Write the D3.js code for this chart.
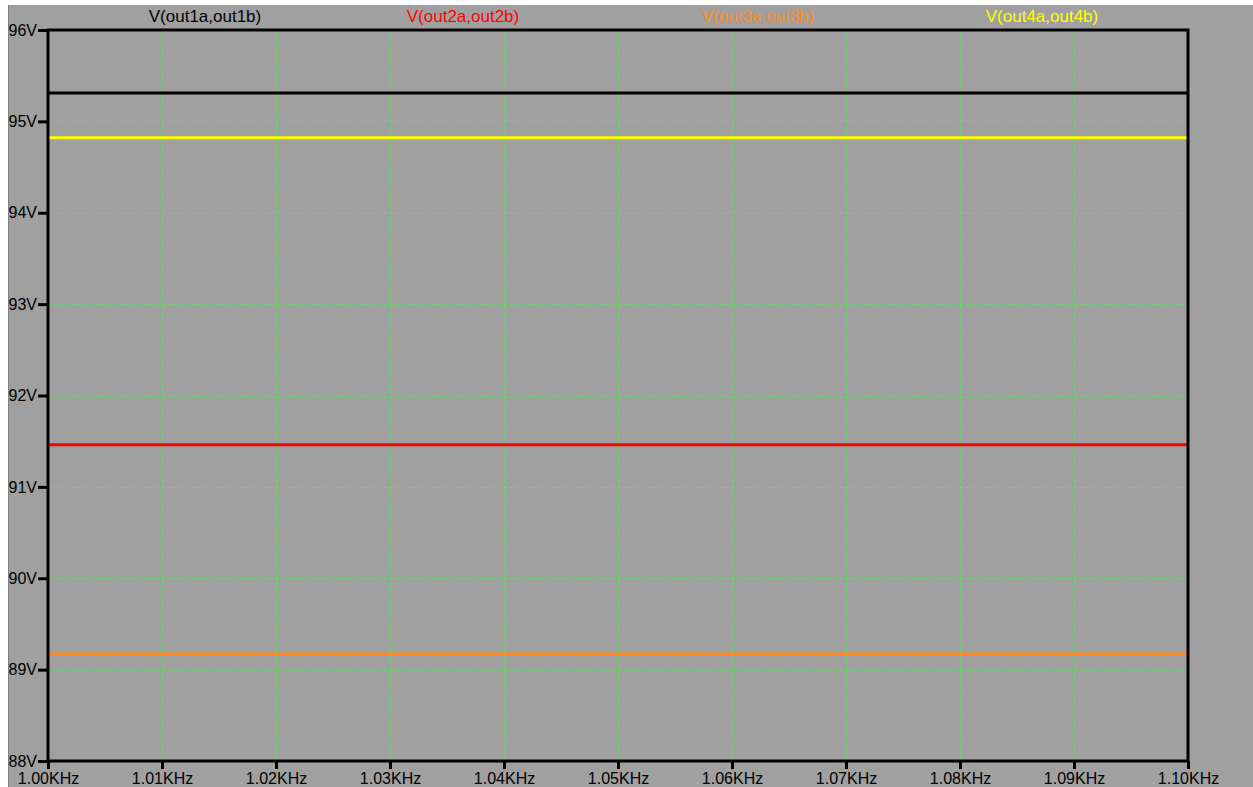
<!DOCTYPE html>
<html>
<head>
<meta charset="utf-8">
<script src="https://cdn.jsdelivr.net/npm/d3@7/dist/d3.min.js"></script>
<style>
  html, body { margin: 0; padding: 0; background: #ffffff; }
  svg { display: block; }
  text { font-family: "Liberation Sans", Arial, sans-serif; }
</style>
</head>
<body>
<script>
// AC sweep, 1.00 kHz – 1.10 kHz; differential output voltages (V)
const traceNames  = ["V(out1a,out1b)", "V(out2a,out2b)", "V(out3a,out3b)", "V(out4a,out4b)"];
const traceColors = ["#000000", "#ff0000", "#ff8c1a", "#ffff00"];
const traceLevels = [95.31, 91.46, 89.17, 94.82];
const freqStart = 1000;
const freqEnd = 1100;
const xTickValues = [1000, 1010, 1020, 1030, 1040, 1050, 1060, 1070, 1080, 1090, 1100];
const xTickLabels = ["1.00KHz", "1.01KHz", "1.02KHz", "1.03KHz", "1.04KHz", "1.05KHz",
                     "1.06KHz", "1.07KHz", "1.08KHz", "1.09KHz", "1.10KHz"];
const yTickValues = [88, 89, 90, 91, 92, 93, 94, 95, 96];
const yTickLabels = ["88V", "89V", "90V", "91V", "92V", "93V", "94V", "95V", "96V"];
const titleCenters = [205, 463, 758, 1042];

const W = 1253, H = 787;
const plot = { left: 48, right: 1188, top: 30, bottom: 761 };

const svg = d3.select("body").append("svg").attr("width", W).attr("height", H);

// window background
svg.append("rect").attr("x", 8).attr("y", 5).attr("width", W - 8).attr("height", H - 5)
  .attr("fill", "#a0a0a0");
svg.append("line").attr("x1", 8.5).attr("x2", 8.5).attr("y1", 5).attr("y2", H)
  .attr("stroke", "#808080").attr("stroke-width", 1);

const x = d3.scaleLinear().domain([freqStart, freqEnd]).range([plot.left, plot.right]);
const y = d3.scaleLinear().domain([88, 96]).range([plot.bottom, plot.top]);

// grid
const gridColor = "#6cd46c";
const grid = svg.append("g");
grid.selectAll("line.vg").data(xTickValues.slice(1, -1)).join("line")
  .attr("x1", d => Math.round(x(d)) + 0.5).attr("x2", d => Math.round(x(d)) + 0.5)
  .attr("y1", plot.top).attr("y2", plot.bottom)
  .attr("stroke", gridColor).attr("stroke-width", 1).attr("stroke-dasharray", "3,3");
grid.selectAll("line.hg").data(yTickValues.slice(1, -1)).join("line")
  .attr("x1", plot.left).attr("x2", plot.right)
  .attr("y1", d => Math.round(y(d)) + 0.5).attr("y2", d => Math.round(y(d)) + 0.5)
  .attr("stroke", gridColor).attr("stroke-width", 1).attr("stroke-dasharray", "3,3");

// traces (constant over the sweep)
const sweep = [freqStart, freqEnd];
const line = d3.line().x(d => x(d[0])).y(d => y(d[1]));
traceLevels.forEach((v, i) => {
  svg.append("path")
    .datum(sweep.map(f => [f, v]))
    .attr("d", line)
    .attr("fill", "none")
    .attr("stroke", traceColors[i])
    .attr("stroke-width", 3);
});

// frame
svg.append("rect")
  .attr("x", plot.left).attr("y", plot.top)
  .attr("width", plot.right - plot.left).attr("height", plot.bottom - plot.top)
  .attr("fill", "none").attr("stroke", "#000").attr("stroke-width", 3);

// axes
const xAxis = d3.axisBottom(x).tickValues(xTickValues)
  .tickFormat((d, i) => xTickLabels[i]).tickSize(8).tickPadding(4);
const gx = svg.append("g").attr("transform", `translate(0,${plot.bottom})`).call(xAxis);
gx.select(".domain").remove();
gx.selectAll(".tick line").attr("stroke", "#000").attr("stroke-width", 3);
gx.selectAll(".tick text").attr("font-size", 16).attr("fill", "#000")
  .attr("font-family", "Liberation Sans, Arial, sans-serif");

const yAxis = d3.axisLeft(y).tickValues(yTickValues)
  .tickFormat((d, i) => yTickLabels[i]).tickSize(10).tickPadding(1);
const gy = svg.append("g").attr("transform", `translate(${plot.left},0)`).call(yAxis);
gy.select(".domain").remove();
gy.selectAll(".tick line").attr("stroke", "#000").attr("stroke-width", 3);
gy.selectAll(".tick text").attr("font-size", 16).attr("fill", "#000")
  .attr("font-family", "Liberation Sans, Arial, sans-serif");

// trace titles
svg.selectAll("text.title").data(traceNames).join("text")
  .attr("class", "title")
  .attr("x", (d, i) => titleCenters[i]).attr("y", 22)
  .attr("text-anchor", "middle")
  .attr("font-size", 17)
  .attr("fill", (d, i) => traceColors[i])
  .text(d => d);
</script>
</body>
</html>
